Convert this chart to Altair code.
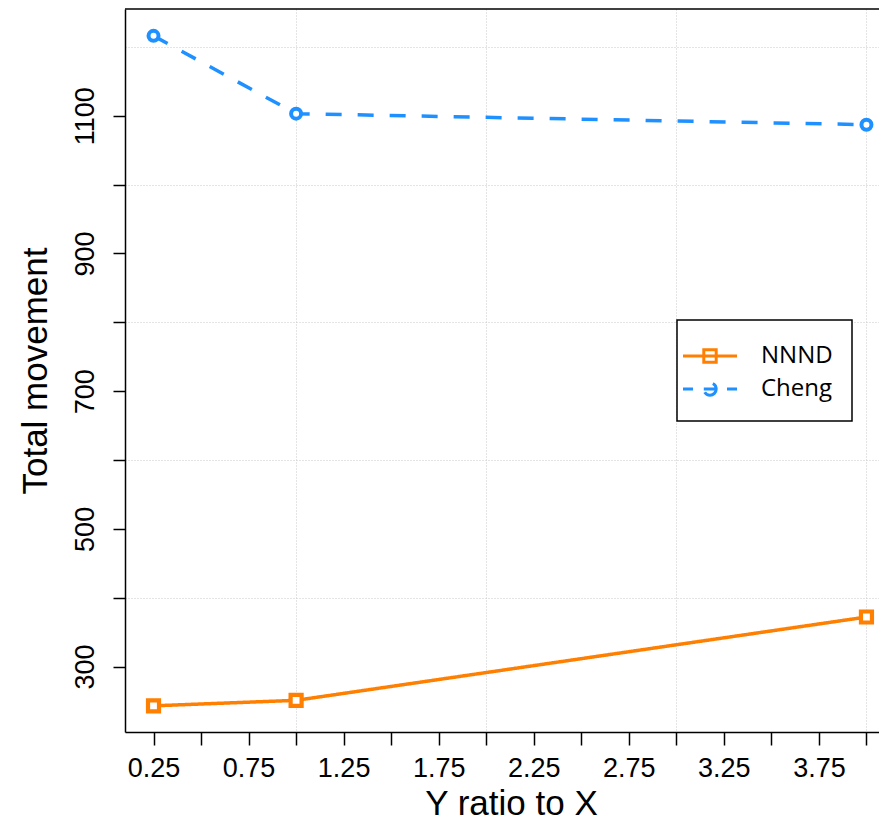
import altair as alt
import pandas as pd

# ---- data ----
ratios = [0.25, 1.0, 4.0]
nnnd_values = [243, 251, 372]
cheng_values = [1216, 1103, 1087]
series_names = ["NNND", "Cheng"]
series_colors = ["#FF7F00", "#1E90FF"]

x_tick_values = [0.25, 0.5, 0.75, 1.0, 1.25, 1.5, 1.75, 2.0, 2.25, 2.5, 2.75,
                 3.0, 3.25, 3.5, 3.75, 4.0]
y_tick_values = [300, 400, 500, 600, 700, 800, 900, 1000, 1100, 1200]

rows = []
for x, v in zip(ratios, nnnd_values):
    rows.append({"ratio": x, "movement": v, "series": "NNND"})
for x, v in zip(ratios, cheng_values):
    rows.append({"ratio": x, "movement": v, "series": "Cheng"})
df = pd.DataFrame(rows)

W, H = 754, 723
FONT = "Liberation Sans"

x_axis = alt.Axis(
    values=x_tick_values,
    labelExpr="(datum.value * 4) % 2 === 1 ? format(datum.value, '.2f') : ''",
    title="Y ratio to X", titleFont=FONT, titleFontSize=35, titleFontWeight="normal",
    titleColor="black", titleX=386, titleY=82, titleAlign="center", titleBaseline="alphabetic",
    labelFont=FONT, labelFontSize=27, labelColor="black", labelPadding=10,
    labelOverlap=False, labelFlush=False,
    tickSize=13, tickWidth=1.5, tickColor="black",
    domainColor="black", domainWidth=1.5,
    grid=True, gridColor="#C8C8C8", gridDash=[1, 2], gridWidth=1,
    gridOpacity={"condition": {"test": "datum.value % 1 === 0", "value": 1}, "value": 0},
)
y_axis = alt.Axis(
    values=y_tick_values, format="d",
    labelExpr="(datum.value % 200 === 100 && datum.value <= 1100) ? datum.label : ''",
    title="Total movement", titleFont=FONT, titleFontSize=35, titleFontWeight="normal",
    titleColor="black", titleAngle=270, titleX=-79, titleY=361.5, titleAlign="center",
    titleBaseline="alphabetic",
    labelFont=FONT, labelFontSize=27, labelColor="black", labelAngle=270,
    labelAlign="center", labelBaseline="alphabetic", labelPadding=20,
    labelOverlap=False, labelFlush=False,
    tickSize=12, tickWidth=1.5, tickColor="black",
    tickOpacity={"condition": {"test": "datum.value > 1100", "value": 0}, "value": 1},
    domainColor="black", domainWidth=1.5,
    grid=True, gridColor="#C8C8C8", gridDash=[1, 2], gridWidth=1,
    gridOpacity={"condition": {"test": "datum.value % 200 === 0", "value": 1}, "value": 0},
)

x_enc = alt.X("ratio:Q", scale=alt.Scale(domain=[0.1, 4.066], nice=False, zero=False), axis=x_axis)
y_enc = alt.Y("movement:Q", scale=alt.Scale(domain=[205, 1255], nice=False, zero=False), axis=y_axis)

color_scale = alt.Scale(domain=series_names, range=series_colors)

# legend glyphs: line segment(s) with the point marker, in symbol units
L, D, S = 1.742, 1.097, 0.40
r, k = 0.40, 0.221
circle_path = (f"M{r},0C{r},{k},{k},{r},0,{r}C{-k},{r},{-r},{k},{-r},0"
               f"C{-r},{-k},{-k},{-r},0,{-r}C{k},{-r},{r},{-k},{r},0Z")
legend_paths = [
    f"M{-L},0L{L},0M{-S},{-S}L{S},{-S}L{S},{S}L{-S},{S}Z",
    f"M{-L},0L{-D},0M{D},0L{L},0M{-r},0L{r},0" + circle_path,
]

legend_def = dict(
    orient="none", legendX=552, legendY=311, title=None,
    symbolSize=961, symbolStrokeWidth=3, symbolOpacity=1, symbolOffset=-3,
    labelFont="Open Sans", labelFontSize=24, labelColor="black", labelOffset=34,
    padding=19, rowPadding=3, strokeColor="black", fillColor="white",
)

base = alt.Chart(df)

# legend-only layer (first so its enabled legend wins the merge)
legend_layer = base.mark_point(opacity=0, strokeWidth=3, filled=False).encode(
    x=x_enc, y=y_enc,
    color=alt.Color("series:N", scale=color_scale, legend=alt.Legend(**legend_def)),
    shape=alt.Shape("series:N", scale=alt.Scale(domain=series_names, range=legend_paths),
                    legend=alt.Legend(**legend_def)),
)

top_edge = alt.Chart(pd.DataFrame({"edge": [0]})).mark_rule(
    color="black", strokeWidth=1.5
).encode(x=alt.value(0), x2=alt.value(W), y=alt.value(0))

lines = base.mark_line(strokeWidth=3.5).encode(
    x=x_enc, y=y_enc,
    color=alt.Color("series:N", scale=color_scale, legend=None),
    strokeDash=alt.StrokeDash("series:N",
                              scale=alt.Scale(domain=series_names, range=[[1, 0], [16, 16]]),
                              legend=None),
)

pts_nnnd = base.transform_filter(alt.datum.series == "NNND").mark_point(
    shape="square", filled=True, fill="white", size=121, strokeWidth=4.2, opacity=1
).encode(x=x_enc, y=y_enc,
         stroke=alt.Stroke("series:N", scale=color_scale, legend=None))

pts_cheng = base.transform_filter(alt.datum.series == "Cheng").mark_point(
    shape="circle", filled=True, fill="white", size=100, strokeWidth=4, opacity=1
).encode(x=x_enc, y=y_enc,
         stroke=alt.Stroke("series:N", scale=color_scale, legend=None))

chart = alt.layer(legend_layer, top_edge, lines, pts_nnnd, pts_cheng).properties(
    width=W, height=H,
    padding={"left": 117, "top": 1, "right": 0, "bottom": 90},
    autosize=alt.AutoSizeParams(type="none"),
    background="white",
).configure(font=FONT).configure_view(stroke="transparent").configure_legend(strokeWidth=1.5)

chart.save("out.html", embed_options={"renderer": "svg", "actions": False})
